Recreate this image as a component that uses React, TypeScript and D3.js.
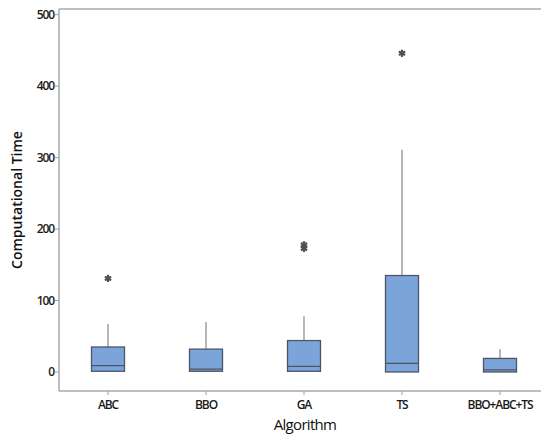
import React from "react";
import * as d3 from "d3";

const categories = ["ABC", "BBO", "GA", "TS", "BBO+ABC+TS"];
const q1 = [1, 1, 1, 0, 0];
const medians = [9, 4, 8, 12, 3];
const q3 = [35, 32, 44, 135, 19];
const whiskerLow = [0, 0, 0, 0, 0];
const whiskerHigh = [67, 70, 78, 311, 32];
const outliers: number[][] = [[131], [], [178, 173], [446], []];
const yTicks = [0, 100, 200, 300, 400, 500];

const W = 541;
const H = 439;
const left = 59;
const top = 9;
const bottom = 391;

export default function App() {
  const x = d3.scalePoint<string>().domain(categories).range([108, 500]);
  const y = d3.scaleLinear().domain([-26.6, 508]).range([bottom, top]);
  const bw = 33;
  const font = "'Open Sans', 'DejaVu Sans', sans-serif";

  const asterisk = (cx: number, cy: number, key: string) => {
    const r = 3.6;
    const lines = [0, 60, 120].map((a) => {
      const rad = (a * Math.PI) / 180;
      return (
        <line
          key={a}
          x1={cx - r * Math.sin(rad)}
          y1={cy - r * Math.cos(rad)}
          x2={cx + r * Math.sin(rad)}
          y2={cy + r * Math.cos(rad)}
          stroke="#505050"
          strokeWidth={2.2}
        />
      );
    });
    return <g key={key}>{lines}</g>;
  };

  return (
    <svg
      width={W}
      height={H}
      style={{ position: "absolute", left: 0, top: 0, background: "#fff" }}
    >
      {/* frame */}
      <line x1={left} y1={top} x2={W} y2={top} stroke="#a8a8a8" strokeWidth={1.5} />
      <line x1={left} y1={bottom} x2={W} y2={bottom} stroke="#a8a8a8" strokeWidth={1.5} />
      <line x1={left} y1={top} x2={left} y2={bottom} stroke="#a8a8a8" strokeWidth={1.5} />

      {/* y ticks */}
      {yTicks.map((t) => (
        <g key={t}>
          <line x1={left - 4} x2={left} y1={y(t)} y2={y(t)} stroke="#a0a0a0" strokeWidth={1} />
          <text
            x={left - 5}
            y={y(t)}
            dy="0.35em"
            textAnchor="end"
            fontFamily={font}
            fontSize={12}
            fontWeight={600}
            fill="#1a1a1a"
            style={{ letterSpacing: "-1.1px" }}
          >
            {t}
          </text>
        </g>
      ))}

      {/* x ticks */}
      {categories.map((c) => (
        <g key={c}>
          <line x1={x(c)!} x2={x(c)!} y1={bottom} y2={bottom + 4} stroke="#a0a0a0" strokeWidth={1} />
          <text
            x={x(c)!}
            y={bottom + 18}
            textAnchor="middle"
            fontFamily={font}
            fontSize={12}
            fontWeight={600}
            fill="#1a1a1a"
            style={{ letterSpacing: "-1.1px" }}
          >
            {c}
          </text>
        </g>
      ))}

      {/* boxes */}
      {categories.map((c, i) => {
        const cx = x(c)!;
        return (
          <g key={c}>
            <line x1={cx} x2={cx} y1={y(q3[i])} y2={y(whiskerHigh[i])} stroke="#888" strokeWidth={1.2} />
            <line x1={cx} x2={cx} y1={y(q1[i])} y2={y(whiskerLow[i])} stroke="#888" strokeWidth={1.2} />
            <rect
              x={cx - bw / 2}
              y={y(q3[i])}
              width={bw}
              height={y(q1[i]) - y(q3[i])}
              fill="#7ba5da"
              stroke="#4f5563"
              strokeWidth={1.3}
            />
            <line
              x1={cx - bw / 2}
              x2={cx + bw / 2}
              y1={y(medians[i])}
              y2={y(medians[i])}
              stroke="#4f5563"
              strokeWidth={1.3}
            />
            {outliers[i].map((o, j) => asterisk(cx, y(o), `${c}-${j}`))}
          </g>
        );
      })}

      {/* axis titles */}
      <text
        x={305}
        y={430}
        textAnchor="middle"
        fontFamily={font}
        fontSize={15}
        fill="#111"
        style={{ letterSpacing: "-0.7px" }}
      >
        Algorithm
      </text>
      <text
        transform={`translate(22, 200) rotate(-90)`}
        textAnchor="middle"
        fontFamily={font}
        fontSize={14}
        fontWeight={600}
        fill="#111"
      >
        Computational Time
      </text>
    </svg>
  );
}
